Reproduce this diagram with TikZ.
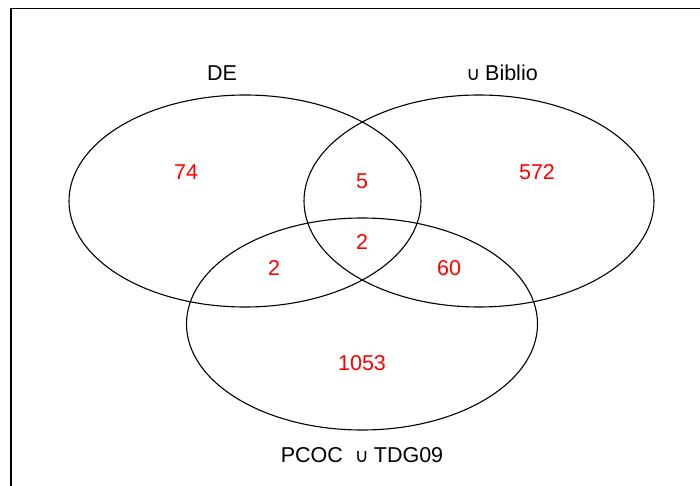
\documentclass[tikz,border=0pt]{standalone}
\usepackage{fontspec}
\setmainfont{Liberation Sans}
\newfontfamily\cupfont{DejaVu Sans}
\begin{document}
\begin{tikzpicture}[x=1pt,y=-1pt,
  setline/.style={draw=black,line width=1.1pt},
  framestyle/.style={draw=black,line width=1.4pt},
  countlabel/.style={text=red,font=\fontsize{21.5}{25}\selectfont,inner sep=0pt},
  setlabel/.style={text=black,font=\fontsize{21.5}{25}\selectfont,inner sep=0pt}]
\useasboundingbox (0,0) rectangle (700,486);
\clip (0,0) rectangle (700,486);
\fill[white] (0,0) rectangle (700,486);
\draw[framestyle] (11,8.7) rectangle (720,510);
% sets
\draw[setline] (245,201) ellipse [x radius=176, y radius=106];
\draw[setline] (479,201) ellipse [x radius=175, y radius=106];
\draw[setline] (362,324) ellipse [x radius=175.5, y radius=106];
% set labels
\node[setlabel] (de) at (222,73) {DE};
\node[setlabel] (biblio) at (502,73) {{\cupfont\fontsize{19}{21}\selectfont ∪}\hspace{5pt}Biblio};
\node[setlabel] (pcoc) at (362,455) {PCOC\hspace{12pt}{\cupfont\fontsize{19}{21}\selectfont ∪}\hspace{5pt}TDG09};
% counts
\node[countlabel] (n74) at (186,172) {74};
\node[countlabel] (n5) at (362,181) {5};
\node[countlabel] (n572) at (537,172) {572};
\node[countlabel] (n2c) at (362,242) {2};
\node[countlabel] (n2l) at (274,268) {2};
\node[countlabel] (n60) at (449,268) {60};
\node[countlabel] (n1053) at (362,363) {1053};
\end{tikzpicture}
\end{document}
